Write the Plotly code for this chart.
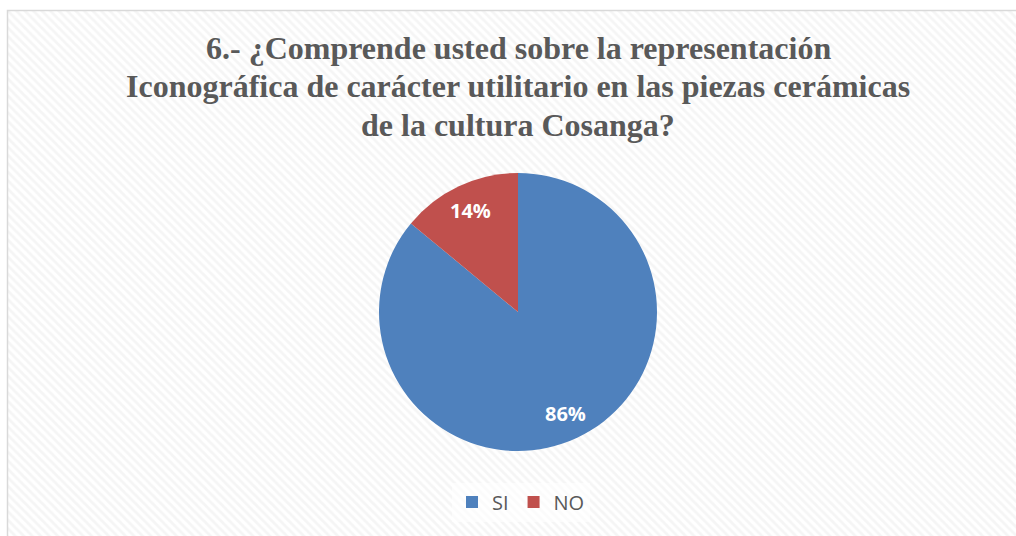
import math
import plotly.graph_objects as go

labels = ["SI", "NO"]
values = [86, 14]
colors = ["#4F81BD", "#C0504D"]
title_lines = [
    "6.- ¿Comprende usted sobre la representación",
    "Iconográfica de carácter utilitario en las piezas cerámicas",
    "de la cultura Cosanga?",
]

W, H = 1016, 536
CX, CY, R = 518, 312, 139  # pie centre / radius in px
LABEL_R = 0.81

fig = go.Figure()

# hatched chart-area background (decoration)
fig.add_trace(go.Scatter(
    x=[0, 1, 1, 0, 0], y=[0, 0, 1, 1, 0], mode="lines", fill="toself",
    line=dict(width=0), fillcolor="white",
    fillpattern=dict(shape="\\", fgcolor="#ebebeb", bgcolor="white", size=6, solidity=0.45),
    hoverinfo="skip", showlegend=False,
))

fig.add_trace(go.Pie(
    labels=labels, values=values, sort=False, direction="clockwise", rotation=0,
    marker=dict(colors=colors, line=dict(color="white", width=0)),
    textinfo="none",
    domain=dict(x=[(CX - R) / W, (CX + R) / W],
                y=[(H - (CY + R)) / H, (H - (CY - R)) / H]),
    hoverinfo="label+percent",
))

annotations = []
# percentage labels, placed from the data
total = sum(values)
cum = 0
for v in values:
    mid = (cum + v / 2) / total * 2 * math.pi
    cum += v
    px = CX + LABEL_R * R * math.sin(mid)
    py = CY - LABEL_R * R * math.cos(mid)
    annotations.append(dict(
        x=px / W, y=1 - py / H, xref="paper", yref="paper", showarrow=False,
        text="<b>%d%%</b>" % round(100 * v / total),
        font=dict(family="Open Sans, Liberation Sans, sans-serif", size=20, color="white"),
        xanchor="center", yanchor="middle",
    ))

# title, one annotation per line
title_y = [48, 86.5, 124.5]
for line, ty in zip(title_lines, title_y):
    annotations.append(dict(
        x=518 / W, y=1 - ty / H, xref="paper", yref="paper", showarrow=False,
        text="<b>" + line + "</b>", xanchor="center", yanchor="middle",
        font=dict(family="Liberation Serif, Times New Roman, serif", size=32, color="#595959"),
    ))

fig.update_layout(
    width=W, height=H,
    margin=dict(l=0, r=0, t=0, b=0),
    paper_bgcolor="white", plot_bgcolor="rgba(0,0,0,0)",
    xaxis=dict(domain=[8 / W, 1], range=[0, 1], visible=False, fixedrange=True),
    yaxis=dict(domain=[0, 1 - 11 / H], range=[0, 1], visible=False, fixedrange=True),
    legend=dict(
        orientation="h", x=521 / W, xanchor="center", y=(H - 502) / H, yanchor="middle",
        font=dict(family="Open Sans, Liberation Sans, sans-serif", size=20, color="#595959"),
        itemwidth=30, bgcolor="rgba(255,255,255,0.6)",
    ),
    annotations=annotations,
    shapes=[dict(
        type="rect", xref="paper", yref="paper",
        x0=7.5 / W, x1=1.01, y0=-0.01, y1=1 - 10.5 / H,
        line=dict(color="#d9d9d9", width=1.5), fillcolor="rgba(0,0,0,0)",
    )],
    showlegend=True,
)

fig.write_html("out.html", config={"displayModeBar": False},
               post_script="document.body.style.margin='0';")
